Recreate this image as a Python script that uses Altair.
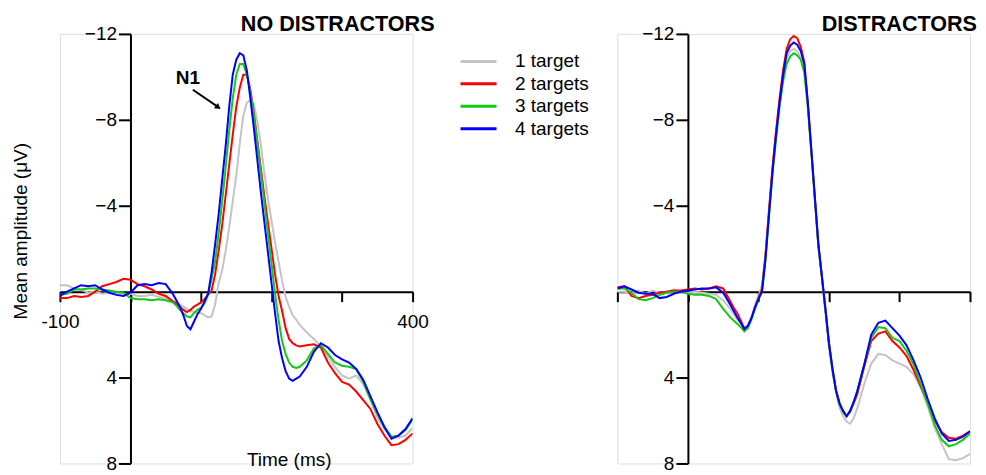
import altair as alt
import pandas as pd

FONT = "Liberation Sans"

TIME = [-100, -90, -80, -70, -60, -50, -40, -30, -20, -10, 0, 10, 20, 30, 40, 50, 60,
        65, 70, 75, 80, 85, 90, 95, 100, 105, 110, 115, 120, 125, 130, 135, 140, 145, 150,
        155, 160, 165, 170, 175, 180, 185, 190, 195, 200, 205, 210, 215, 220, 225, 230, 235, 240,
        250, 260, 270, 280, 290, 300, 310, 320, 330, 340, 350, 360, 370, 380, 390, 400]

SERIES = ["1 target", "2 targets", "3 targets", "4 targets"]
COLORS = ["#c4c4c4", "#ff0000", "#14c814", "#0000ff"]

# NO DISTRACTORS panel (microvolts)
ND_1 = [-0.3, -0.3, -0.15, -0.1, 0.05, 0.0, 0.1, 0.05, 0.1, 0.2, 0.1, 0.2, 0.2, 0.15, 0.25, 0.3, 0.45,
        0.5, 0.6, 0.7, 0.8, 0.9, 0.95, 1.0, 1.0, 1.1, 1.2, 1.15, 0.6, -0.4, -1.0, -1.9, -3.0, -4.2, -5.4,
        -6.9, -8.2, -8.8, -8.9, -8.75, -7.9, -6.8, -5.5, -4.3, -3.3, -2.3, -1.4, -0.5, 0.25, 0.7, 1.1, 1.3, 1.55,
        1.9, 2.2, 2.55, 3.0, 3.5, 3.9, 4.05, 3.9, 4.3, 5.0, 5.85, 6.4, 6.75, 6.8, 6.7, 6.35]
ND_2 = [0.3, 0.3, 0.2, 0.25, 0.2, 0.0, -0.25, -0.35, -0.45, -0.6, -0.55, -0.35, -0.25, -0.1, 0.1, 0.2, 0.45,
        0.55, 0.7, 0.85, 0.95, 0.85, 0.7, 0.6, 0.5, 0.35, 0.15, -0.05, -0.8, -1.9, -3.1, -4.5, -5.9, -7.3, -8.6,
        -9.5, -10.1, -10.1, -9.4, -8.3, -7.0, -5.7, -4.4, -3.2, -2.0, -0.8, 0.2, 0.9, 1.7, 2.2, 2.4, 2.5, 2.55,
        2.5, 2.45, 2.6, 3.3, 3.8, 4.2, 4.33, 4.65, 5.05, 5.45, 6.15, 6.7, 7.15, 7.1, 6.9, 6.6]
ND_3 = [0.15, 0.1, -0.1, -0.1, -0.15, -0.15, -0.1, -0.05, 0.0, 0.05, 0.3, 0.35, 0.35, 0.4, 0.35, 0.4, 0.5,
        0.65, 0.85, 1.0, 1.15, 1.2, 1.0, 0.85, 0.75, 0.55, 0.15, -0.6, -1.4, -2.7, -4.2, -5.8, -7.5, -9.0, -10.1,
        -10.6, -10.6, -10.1, -9.3, -8.2, -6.9, -5.5, -4.1, -2.7, -1.3, 0.1, 1.3, 2.3, 2.9, 3.3, 3.5, 3.55, 3.5,
        3.2, 2.65, 2.5, 2.9, 3.3, 3.45, 3.5, 3.6, 4.2, 5.0, 5.7, 6.3, 6.75, 6.7, 6.45, 5.95]
ND_4 = [0.2, 0.0, -0.15, -0.3, -0.25, -0.3, -0.1, 0.05, 0.15, 0.2, 0.05, -0.3, -0.35, -0.3, -0.4, -0.35, 0.1,
        0.4, 0.7, 1.1, 1.6, 1.75, 1.4, 1.05, 0.8, 0.45, 0.1, -0.9, -2.2, -3.6, -5.2, -6.8, -8.6, -10.1, -10.8,
        -11.1, -11.0, -10.3, -9.0, -7.6, -6.1, -4.6, -3.2, -1.8, -0.4, 1.0, 2.3, 3.1, 3.7, 4.05, 4.15, 4.05, 3.95,
        3.5, 2.8, 2.4, 2.6, 2.95, 3.15, 3.3, 3.6, 4.1, 4.85, 5.6, 6.3, 6.85, 6.7, 6.4, 5.9]

# DISTRACTORS panel (microvolts)
D_1 = [0.0, 0.0, 0.05, -0.05, 0.1, -0.05, 0.05, 0.0, -0.1, 0.0, 0.05, 0.0, 0.05, 0.1, 0.15, 0.4, 0.8,
       1.05, 1.3, 1.5, 1.75, 1.6, 1.2, 0.6, 0.2, -0.3, -1.8, -3.8, -5.8, -7.4, -8.8, -10.0, -10.9, -11.2, -11.3,
       -11.2, -10.9, -10.3, -8.7, -6.5, -4.3, -2.1, -0.6, 1.0, 2.6, 3.8, 4.7, 5.4, 5.8, 6.05, 6.15, 5.9, 5.45,
       4.3, 3.35, 2.9, 2.95, 3.2, 3.35, 3.5, 3.85, 4.45, 5.35, 6.35, 7.1, 7.8, 7.85, 7.75, 7.55]
D_2 = [-0.2, -0.25, 0.2, 0.3, 0.2, 0.15, 0.05, 0.0, -0.05, -0.05, -0.1, -0.15, -0.1, -0.15, -0.25, -0.15, 0.45,
       0.75, 1.0, 1.35, 1.7, 1.6, 1.25, 0.75, 0.3, -0.1, -1.7, -3.8, -5.8, -7.5, -9.0, -10.3, -11.3, -11.75, -11.9,
       -11.8, -11.4, -10.7, -8.8, -6.6, -4.4, -2.2, -0.7, 0.8, 2.4, 3.6, 4.6, 5.2, 5.55, 5.8, 5.6, 5.2, 4.8,
       3.5, 2.3, 1.95, 1.85, 2.3, 2.6, 3.0, 3.65, 4.4, 5.15, 6.0, 6.55, 6.8, 6.85, 6.7, 6.5]
D_3 = [-0.15, -0.15, 0.05, 0.35, 0.4, 0.3, 0.15, 0.05, 0.0, 0.0, 0.1, 0.15, 0.15, 0.2, 0.35, 0.8, 1.2,
       1.35, 1.5, 1.65, 1.85, 1.7, 1.3, 0.8, 0.35, 0.0, -1.5, -3.5, -5.5, -7.1, -8.6, -9.8, -10.6, -10.95, -11.1,
       -11.0, -10.8, -10.2, -8.6, -6.5, -4.3, -2.1, -0.7, 0.8, 2.4, 3.6, 4.6, 5.25, 5.6, 5.8, 5.55, 5.15, 4.65,
       3.4, 2.15, 1.65, 1.7, 2.15, 2.3, 2.75, 3.4, 4.3, 5.2, 6.2, 6.9, 7.2, 7.1, 6.9, 6.6]
D_4 = [-0.15, -0.25, -0.1, 0.05, 0.1, 0.1, 0.3, 0.25, 0.1, 0.0, -0.05, -0.1, -0.15, -0.15, -0.2, 0.05, 0.6,
       0.9, 1.2, 1.45, 1.75, 1.6, 1.25, 0.75, 0.35, 0.0, -1.5, -3.6, -5.6, -7.3, -8.8, -10.1, -11.1, -11.45, -11.6,
       -11.5, -11.2, -10.6, -8.8, -6.6, -4.4, -2.2, -0.7, 0.8, 2.4, 3.6, 4.6, 5.2, 5.55, 5.8, 5.55, 5.15, 4.65,
       3.4, 2.0, 1.45, 1.35, 1.7, 2.05, 2.5, 3.2, 4.0, 5.0, 5.9, 6.6, 6.95, 6.9, 6.75, 6.5]

X_TICKS = [-100, 0, 100, 200, 300, 400]
X_LABELED = [-100, 400]
Y_TICKS = [-12, -8, -4, 4, 8]
X_DOMAIN = [-100, 400]
Y_DOMAIN = [-12, 8]

# N1 annotation (label position and arrow, in data units)
N1_LABEL = {"time": 81.5, "amp": -9.65, "text": "N1"}
N1_ARROW = {"time": 88.5, "amp": -9.4, "time2": 124.0, "amp2": -8.6}
N1_HEAD = {"time": 124.5, "amp": -8.58}

W, H = 353, 430


def build_df(lists):
    rows = []
    for name, vals in zip(SERIES, lists):
        assert len(vals) == len(TIME), (name, len(vals))
        for t, v in zip(TIME, vals):
            rows.append({"time": t, "amp": v, "series": name})
    return pd.DataFrame(rows)


nd_df = build_df([ND_1, ND_2, ND_3, ND_4])
d_df = build_df([D_1, D_2, D_3, D_4])

x_off = -H * (Y_DOMAIN[1] - 0) / (Y_DOMAIN[1] - Y_DOMAIN[0])   # x axis drawn at amplitude 0
y_off = -W * (0 - X_DOMAIN[0]) / (X_DOMAIN[1] - X_DOMAIN[0])   # y axis drawn at time 0

axis_common = dict(domainColor="black", domainWidth=2, tickColor="black", tickWidth=2,
                   labelFont=FONT, labelFontSize=19, labelColor="black", grid=False,
                   titleFont=FONT, titleFontSize=19, titleFontWeight="normal", titleColor="black")

lab_expr = " : ".join([f"datum.value == {v} ? '{v}'" for v in X_LABELED]) + " : ''"


def panel(df, title_text, title_dx, left):
    x_axis = alt.Axis(values=X_TICKS, offset=x_off, tickSize=10, labelPadding=11, labelFlush=False,
                      labelExpr=lab_expr if left else "''",
                      title="Time (ms)" if left else None,
                      **({"titleX": 229, "titleY": 174, "titleBaseline": "alphabetic",
                          "titleAlign": "center", "titleAnchor": "start"} if left else {}),
                      **axis_common)
    y_axis = alt.Axis(values=Y_TICKS, offset=y_off, tickSize=12, labelPadding=2, labelFlush=False,
                      title="Mean amplitude  (\u03bcV)" if left else None,
                      **({"titleX": -104, "titleY": 197, "titleBaseline": "alphabetic",
                          "titleAlign": "center", "titleAngle": 270, "titleAnchor": "start"} if left else {}),
                      **axis_common)
    if left:
        legend = alt.Legend(orient="none", legendX=408.5, legendY=17, title=None, direction="vertical",
                            symbolType="M-2,0H2", symbolStrokeWidth=3, symbolSize=324,
                            labelFont=FONT, labelFontSize=19, labelColor="black",
                            labelOffset=26, rowPadding=1.5)
    else:
        legend = None
    lines = alt.Chart(df).mark_line(strokeWidth=2, clip=True).encode(
        x=alt.X("time:Q", scale=alt.Scale(domain=X_DOMAIN, nice=False, zero=False), axis=x_axis),
        y=alt.Y("amp:Q", scale=alt.Scale(domain=Y_DOMAIN, nice=False, zero=False, reverse=True), axis=y_axis),
        color=alt.Color("series:N", scale=alt.Scale(domain=SERIES, range=COLORS), legend=legend),
        detail="series:N",
    )
    layers = [lines]
    if left:
        lab = alt.Chart(pd.DataFrame([N1_LABEL])).mark_text(
            font=FONT, fontSize=19, fontWeight="bold", color="black", baseline="alphabetic", align="center"
        ).encode(x="time:Q", y="amp:Q", text="text:N")
        arrow = alt.Chart(pd.DataFrame([N1_ARROW])).mark_rule(color="black", strokeWidth=2).encode(
            x="time:Q", y="amp:Q", x2="time2:Q", y2="amp2:Q")
        head = alt.Chart(pd.DataFrame([N1_HEAD])).mark_point(
            shape="triangle-right", filled=True, color="black", size=45, angle=37, opacity=1
        ).encode(x="time:Q", y="amp:Q")
        layers += [lab, arrow, head]
    return alt.layer(*layers).properties(
        width=W, height=H,
        title=alt.TitleParams(title_text, anchor="end", frame="group", font=FONT, fontSize=21.6,
                              fontWeight="bold", color="black", dx=title_dx, baseline="alphabetic",
                              offset=-27.2),
    )


left = panel(nd_df, "NO DISTRACTORS", 22, True)
right = panel(d_df, "DISTRACTORS", 7, False)

chart = alt.hconcat(left, right, spacing=205, bounds="flush").resolve_legend(
    color="independent"
).properties(
    padding={"left": 3, "top": 4.7, "right": 0, "bottom": 0}
).configure_view(stroke=None).configure(font=FONT, background="white")

chart.save("out.html", embed_options={"renderer": "svg", "actions": False})
